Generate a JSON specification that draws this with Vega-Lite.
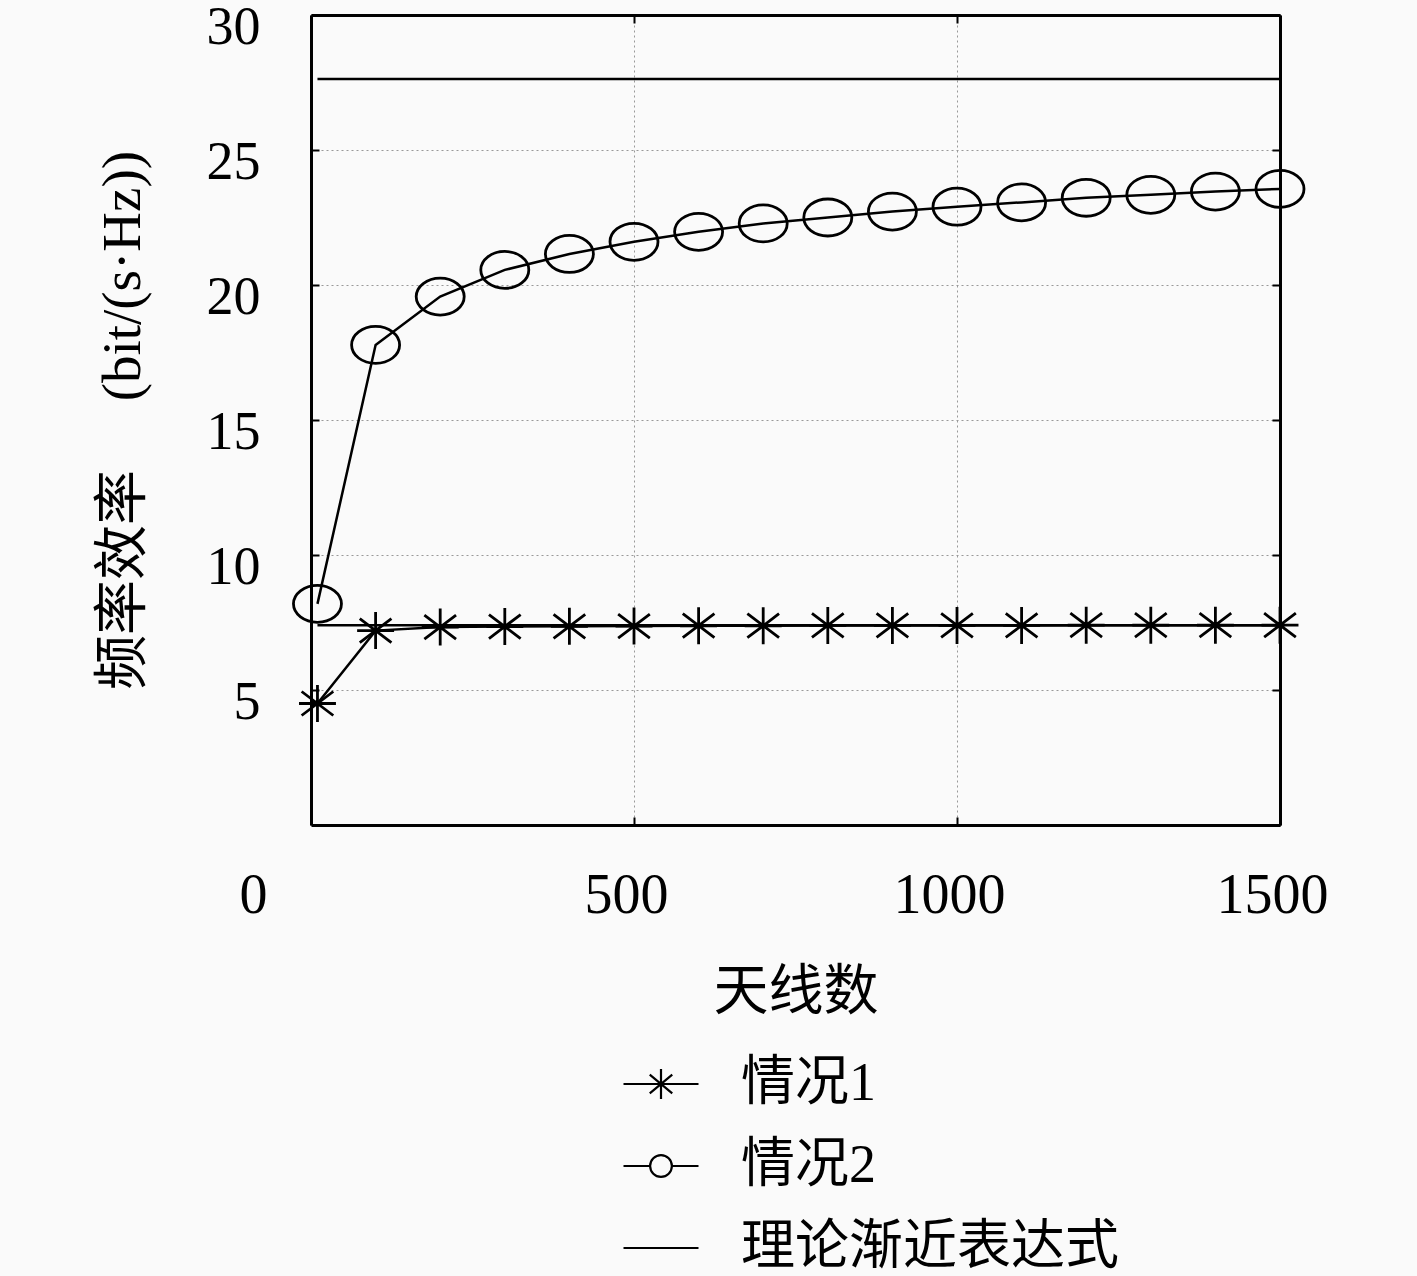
{
  "$schema": "https://vega.github.io/schema/vega-lite/v6.json",
  "width": 969,
  "height": 810,
  "autosize": {"type": "none"},
  "padding": {"left": 311, "top": 15, "right": 137, "bottom": 451},
  "background": "#fafafa",
  "config": {
    "view": {"stroke": null},
    "font": "Liberation Serif, Noto Sans CJK SC",
    "axis": {
      "labelFont": "Liberation Serif, Noto Sans CJK SC",
      "titleFont": "Liberation Serif, Noto Sans CJK SC",
      "labelColor": "black", "titleColor": "black",
      "titleFontWeight": "normal",
      "domainColor": "black", "domainWidth": 3,
      "tickColor": "black", "tickWidth": 2, "tickSize": -8
    },
    "legend": {
      "labelFont": "Liberation Serif, Noto Sans CJK SC",
      "labelColor": "black", "labelLimit": 0
    }
  },
  "datasets": {
    "curves": [
      {"series": "情况1", "group": "c1", "n": 10, "v": 4.5},
      {"series": "情况1", "group": "c1", "n": 100, "v": 7.2},
      {"series": "情况1", "group": "c1", "n": 200, "v": 7.33},
      {"series": "情况1", "group": "c1", "n": 300, "v": 7.35},
      {"series": "情况1", "group": "c1", "n": 400, "v": 7.36},
      {"series": "情况1", "group": "c1", "n": 500, "v": 7.37},
      {"series": "情况1", "group": "c1", "n": 600, "v": 7.38},
      {"series": "情况1", "group": "c1", "n": 700, "v": 7.38},
      {"series": "情况1", "group": "c1", "n": 800, "v": 7.39},
      {"series": "情况1", "group": "c1", "n": 900, "v": 7.39},
      {"series": "情况1", "group": "c1", "n": 1000, "v": 7.39},
      {"series": "情况1", "group": "c1", "n": 1100, "v": 7.39},
      {"series": "情况1", "group": "c1", "n": 1200, "v": 7.4},
      {"series": "情况1", "group": "c1", "n": 1300, "v": 7.4},
      {"series": "情况1", "group": "c1", "n": 1400, "v": 7.4},
      {"series": "情况1", "group": "c1", "n": 1500, "v": 7.4},
      {"series": "情况2", "group": "c2", "n": 10, "v": 8.19},
      {"series": "情况2", "group": "c2", "n": 100, "v": 17.78},
      {"series": "情况2", "group": "c2", "n": 200, "v": 19.57},
      {"series": "情况2", "group": "c2", "n": 300, "v": 20.56},
      {"series": "情况2", "group": "c2", "n": 400, "v": 21.15},
      {"series": "情况2", "group": "c2", "n": 500, "v": 21.6},
      {"series": "情况2", "group": "c2", "n": 600, "v": 21.97},
      {"series": "情况2", "group": "c2", "n": 700, "v": 22.28},
      {"series": "情况2", "group": "c2", "n": 800, "v": 22.5},
      {"series": "情况2", "group": "c2", "n": 900, "v": 22.72},
      {"series": "情况2", "group": "c2", "n": 1000, "v": 22.9},
      {"series": "情况2", "group": "c2", "n": 1100, "v": 23.06},
      {"series": "情况2", "group": "c2", "n": 1200, "v": 23.23},
      {"series": "情况2", "group": "c2", "n": 1300, "v": 23.34},
      {"series": "情况2", "group": "c2", "n": 1400, "v": 23.46},
      {"series": "情况2", "group": "c2", "n": 1500, "v": 23.56}
    ],
    "asymptotes": [
      {"series": "理论渐近表达式", "group": "a1", "n": 10, "v": 7.4},
      {"series": "理论渐近表达式", "group": "a1", "n": 1500, "v": 7.4},
      {"series": "理论渐近表达式", "group": "a2", "n": 10, "v": 27.63},
      {"series": "理论渐近表达式", "group": "a2", "n": 1500, "v": 27.63}
    ]
  },
  "resolve": {
    "axis": {"x": "independent", "y": "independent"},
    "scale": {"shape": "independent"},
    "legend": {"shape": "independent"}
  },
  "layer": [
    {
      "data": {"name": "asymptotes"},
      "mark": {"type": "line", "color": "black", "strokeWidth": 2.5},
      "encoding": {
        "x": {
          "field": "n", "type": "quantitative",
          "scale": {"domain": [0, 1500], "nice": false, "zero": false},
          "axis": {
            "values": [0, 500, 1000, 1500], "format": "d", "labelFlush": false,
            "grid": true, "gridColor": "#999999", "gridDash": [2, 3], "gridWidth": 1,
            "gridOpacity": {"condition": {"test": "datum.value === 0 || datum.value === 1500", "value": 0}, "value": 1},
            "labelFontSize": 56, "labelPadding": 51,
            "labelOffset": {"expr": "datum.value === 0 ? -58 : -8"},
            "title": "天线数", "titleFontSize": 55, "titlePadding": 42
          }
        },
        "y": {
          "field": "v", "type": "quantitative",
          "scale": {"domain": [0, 30], "nice": false},
          "axis": {
            "values": [5, 10, 15, 20, 25, 30],
            "grid": true, "gridColor": "#999999", "gridDash": [2, 3], "gridWidth": 1,
            "gridOpacity": {"condition": {"test": "datum.value === 30", "value": 0}, "value": 1},
            "labelFontSize": 54, "labelPadding": 59, "labelOffset": 12,
            "title": "频率效率\u2003 (bit/(s·Hz))", "titleFontSize": 55, "titlePadding": 55
          }
        },
        "detail": {"field": "group"}
      }
    },
    {
      "data": {"name": "curves"},
      "mark": {"type": "line", "color": "black", "strokeWidth": 2.5},
      "encoding": {
        "x": {"field": "n", "type": "quantitative", "axis": null},
        "y": {"field": "v", "type": "quantitative", "axis": null},
        "detail": {"field": "group"}
      }
    },
    {
      "data": {"name": "curves"},
      "mark": {"type": "point", "filled": false, "color": "black", "strokeWidth": 2.8, "size": 2304, "opacity": 1},
      "encoding": {
        "x": {
          "field": "n", "type": "quantitative",
          "axis": {"orient": "top", "values": [0, 500, 1000, 1500], "labels": false, "grid": false, "title": null}
        },
        "y": {
          "field": "v", "type": "quantitative",
          "axis": {"orient": "right", "values": [0, 5, 10, 15, 20, 25, 30], "labels": false, "grid": false, "title": null}
        },
        "shape": {
          "field": "series", "type": "nominal",
          "scale": {
            "domain": ["情况1", "情况2"],
            "range": [
              "M0,-0.77V0.77M-0.77,0H0.77M-0.66,-0.5L0.66,0.5M-0.66,0.5L0.66,-0.5",
              "M-1,0A1,0.77 0 1,0 1,0A1,0.77 0 1,0 -1,0Z"
            ]
          },
          "legend": null
        }
      }
    },
    {
      "data": {"values": []},
      "mark": {"type": "point", "filled": false, "color": "black", "strokeWidth": 2.2, "opacity": 1},
      "encoding": {
        "x": {"field": "n", "type": "quantitative", "axis": null},
        "y": {"field": "v", "type": "quantitative", "axis": null},
        "shape": {
          "field": "series", "type": "nominal",
          "scale": {
            "domain": ["情况1", "情况2", "理论渐近表达式"],
            "range": [
              "M-1,0H1M0,-0.4V0.4M-0.3,-0.25L0.3,0.25M-0.3,0.25L0.3,-0.25",
              "M-1,0H-0.29M0.29,0H1M-0.29,0A0.29,0.29 0 1,0 0.29,0A0.29,0.29 0 1,0 -0.29,0Z",
              "M-1,0H1"
            ]
          },
          "legend": {
            "title": null,
            "orient": "none", "legendX": 311, "legendY": 1030,
            "direction": "vertical",
            "padding": 0,
            "symbolSize": 5625,
            "symbolStrokeWidth": 2.2,
            "symbolStrokeColor": "black",
            "symbolFillColor": "transparent",
            "symbolOpacity": 1,
            "rowPadding": 16,
            "labelFontSize": 54, "labelOffset": 41
          }
        }
      }
    }
  ]
}
